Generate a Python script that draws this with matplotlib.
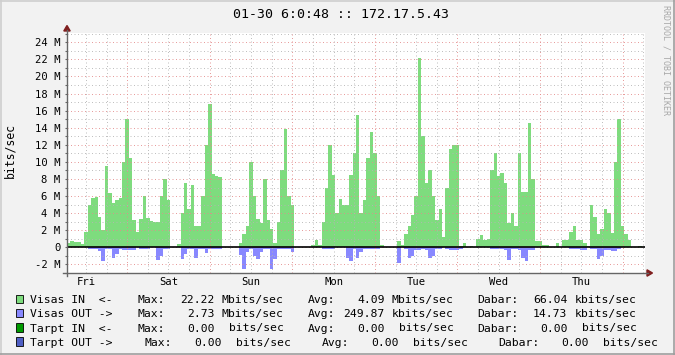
import matplotlib
matplotlib.use("Agg")
import numpy as np
import matplotlib.pyplot as plt
from matplotlib.patches import Polygon, Rectangle
from matplotlib.lines import Line2D

W, H = 675, 355
MONO = "DejaVu Sans Mono"

TITLE = "01-30 6:0:48 :: 172.17.5.43"
WATERMARK = "RRDTOOL / TOBI OETIKER"
Y_LABEL = "bits/sec"
DAYS = ["Fri", "Sat", "Sun", "Mon", "Tue", "Wed", "Thu"]
Y_TICKS = [-2, 0, 2, 4, 6, 8, 10, 12, 14, 16, 18, 20, 22, 24]
Y_TICK_LABELS = ["-2 M", "0", "2 M", "4 M", "6 M", "8 M", "10 M", "12 M",
                 "14 M", "16 M", "18 M", "20 M", "22 M", "24 M"]

# hourly values in Mbit/s, one week starting Friday morning
VISAS_IN = [
    0.55, 0.75, 0.65, 0.6, 0.4, 1.8, 5.0, 5.8, 5.9, 3.5, 2.0, 9.5,
    6.3, 5.2, 5.5, 5.8, 10.0, 15.0, 10.5, 3.2, 1.8, 3.3, 6.0, 3.4,
    3.1, 3.0, 3.0, 6.0, 8.0, 5.5, 0, 0, 0.4, 4.0, 7.5, 4.5,
    7.3, 2.5, 2.5, 6.0, 12.0, 16.8, 8.6, 8.3, 8.2, 0, 0, 0,
    0, 0, 0.5, 1.5, 2.5, 10.0, 6.0, 3.3, 2.8, 8.0, 3.2, 2.2,
    0.5, 3.0, 9.0, 13.8, 6.0, 5.0, 0, 0, 0, 0, 0, 0.3,
    0.8, 0.3, 3.0, 7.0, 12.0, 8.5, 4.0, 5.6, 5.0, 5.0, 8.5, 11.0,
    15.5, 4.0, 5.5, 10.5, 13.5, 11.0, 6.0, 0.3, 0, 0, 0, 0,
    0.7, 0.3, 1.5, 2.5, 3.8, 6.0, 22.2, 13.0, 7.5, 9.0, 6.0, 3.2,
    4.5, 1.2, 7.0, 11.5, 12.0, 12.0, 0.2, 0.5, 0, 0.1, 0, 1.0,
    1.4, 0.9, 1.0, 9.0, 11.0, 8.3, 8.7, 7.5, 2.8, 4.0, 2.5, 11.0,
    6.5, 6.5, 14.5, 8.0, 0.7, 0.7, 0.3, 0.3, 0, 0, 0.5, 0,
    0.8, 0.9, 1.8, 2.5, 0.8, 0.8, 0.5, 0.1, 5.0, 3.5, 1.6, 2.2,
    4.5, 4.0, 1.7, 10.0, 15.0, 2.5, 1.6, 0.8, 0, 0, 0.2, 0,
]
VISAS_OUT = [
    0, 0, 0, 0, 0, 0, 0.2, 0.2, 0.2, 0.4, 1.6, 0.2,
    0.2, 1.3, 0.8, 0.2, 0.3, 0.3, 0.3, 0.3, 0, 0.2, 0.2, 0.2,
    0, 0, 1.5, 1.0, 0.2, 0.2, 0, 0, 0, 1.4, 0.8, 0.2,
    0.2, 1.2, 0.2, 0.2, 0.7, 0.2, 0.2, 0.2, 0.2, 0, 0, 0,
    0, 0, 0.9, 2.6, 0.5, 0.2, 1.0, 1.4, 0.5, 0.2, 0.2, 2.5,
    1.4, 0.2, 0.2, 0.2, 0.2, 0.5, 0, 0, 0, 0, 0, 0,
    0, 0, 0.2, 0.2, 0.2, 0.2, 0, 0, 0, 1.2, 1.6, 0.2,
    1.2, 0.6, 0.2, 0.2, 0.2, 0.2, 0.2, 0, 0, 0, 0, 0,
    1.8, 0, 0.2, 1.3, 1.0, 0.3, 0.3, 0.2, 0.3, 1.2, 1.0, 0.2,
    0.2, 0, 0.2, 0.3, 0.3, 0.3, 0.2, 0, 0, 0, 0, 0,
    0, 0, 0, 0.2, 0.2, 0.2, 0.2, 0.3, 1.5, 0.2, 0.2, 0.3,
    1.2, 1.6, 0.3, 0.3, 0, 0, 0, 0, 0, 0, 0, 0,
    0, 0, 0.2, 0.2, 0.2, 0.3, 0.3, 0, 0.2, 0.2, 1.4, 1.0,
    0.3, 0.3, 0.4, 0.4, 0.2, 0, 0, 0, 0, 0, 0, 0,
]

LEGEND_NAMES = ["Visas IN  <-", "Visas OUT ->", "Tarpt IN  <-", "Tarpt OUT ->"]
LEGEND_MAX = ["22.22", "2.73", "0.00", "0.00"]
LEGEND_MAX_UNIT = ["Mbits/sec", "Mbits/sec", " bits/sec", " bits/sec"]
LEGEND_AVG = ["4.09", "249.87", "0.00", "0.00"]
LEGEND_AVG_UNIT = ["Mbits/sec", "kbits/sec", " bits/sec", " bits/sec"]
LEGEND_CUR = ["66.04", "14.73", "0.00", "0.00"]
LEGEND_CUR_UNIT = ["kbits/sec", "kbits/sec", " bits/sec", " bits/sec"]

GREEN = "#7edc7e"
BLUE = "#8888ff"
SWATCHES = [GREEN, BLUE, "#009a00", "#4f5fc4"]
GRID = "#b4b4b4"
MGRID = "#e38a8a"
ARROW = "#801f1f"
AXIS = "#666666"

FIRST_MIDNIGHT = 17.5  # hours from left edge


def fx(x):
    return x / W


def fy(y):
    return 1 - y / H


fig = plt.figure(figsize=(W / 100, H / 100), dpi=100, facecolor="#f2f2f2")
ax = fig.add_axes([fx(67), fy(273), 578 / W, (273 - 32.5) / H], facecolor="white")

n = len(VISAS_IN)
edges = np.arange(n + 1)
ax.stairs(VISAS_IN, edges, baseline=0, fill=True, color=GREEN, lw=0, zorder=1)
ax.stairs(-np.array(VISAS_OUT), edges, baseline=0, fill=True, color=BLUE, lw=0, zorder=1)

ax.set_xlim(0, 168)
ax.set_ylim(-3.01, 25.15)

# dotted grid on top of data, like rrdtool
dots = (0, (1.2, 3.0))
for v in range(-3, 26):
    if v % 2:
        ax.axhline(v, color=GRID, lw=0.6, ls=dots, zorder=2)
for v in Y_TICKS:
    ax.axhline(v, color=MGRID, lw=0.6, ls=dots, zorder=2)
for h in np.arange(FIRST_MIDNIGHT - 12, 168, 6):
    is_midnight = (h - FIRST_MIDNIGHT) % 24 == 0
    ax.axvline(h, color=MGRID if is_midnight else GRID, lw=0.6, ls=dots, zorder=2)
ax.axhline(0, color="black", lw=1.2, zorder=3)

for s in ax.spines.values():
    s.set_visible(False)

ax.set_yticks(Y_TICKS)
ax.set_yticklabels(Y_TICK_LABELS, family=MONO, fontsize=7.6)
ax.set_yticks(range(-3, 26, 2), minor=True)
ax.tick_params(axis="y", which="both", direction="out", length=1.5, width=0.8,
               color=AXIS, pad=3.2)

noons = [FIRST_MIDNIGHT - 12 + 24 * i for i in range(len(DAYS))]
ax.set_xticks(noons)
ax.set_xticklabels(DAYS, family=MONO, fontsize=7.6)
ax.tick_params(axis="x", length=0, pad=8.3)
for lab in ax.get_xticklabels():
    lab.set_va("baseline")

# axes with arrows
fig.add_artist(Line2D([fx(67), fx(67)], [fy(276), fy(30)], color=AXIS, lw=1,
                      transform=fig.transFigure))
fig.add_artist(Line2D([fx(63), fx(648)], [fy(273), fy(273)], color=AXIS, lw=1,
                      transform=fig.transFigure))
fig.add_artist(Polygon([[fx(63.8), fy(31)], [fx(70.2), fy(31)], [fx(67), fy(25.5)]],
                       closed=True, color=ARROW, transform=fig.transFigure))
fig.add_artist(Polygon([[fx(647), fy(269.8)], [fx(647), fy(276.2)], [fx(652.5), fy(273)]],
                       closed=True, color=ARROW, transform=fig.transFigure))

# frame shading
fig.add_artist(Line2D([0, 1], [fy(0.8), fy(0.8)], color="#cfcfcf", lw=1.2, transform=fig.transFigure))
fig.add_artist(Line2D([fx(0.8), fx(0.8)], [0, 1], color="#cfcfcf", lw=1.2, transform=fig.transFigure))
fig.add_artist(Line2D([0, 1], [fy(354.2), fy(354.2)], color="#9e9e9e", lw=1.2, transform=fig.transFigure))
fig.add_artist(Line2D([fx(674.2), fx(674.2)], [0, 1], color="#9e9e9e", lw=1.2, transform=fig.transFigure))

fig.text(fx(341.4), fy(18.3), TITLE, ha="center", va="baseline", family=MONO, fontsize=9.5)
fig.text(fx(10), fy(150), Y_LABEL, rotation=90, ha="center", va="center",
         family=MONO, fontsize=8.3)
fig.text(fx(666), fy(60), WATERMARK, rotation=270, ha="center", va="center",
         family=MONO, fontsize=6, color="#a8a8a8")

# legend
ROWS = [303.3, 317.4, 331.5, 345.6]


def ltext(x, y, s, ha="left"):
    fig.text(fx(x), fy(y), s, ha=ha, va="baseline", family=MONO, fontsize=8.2)


for i, b in enumerate(ROWS):
    shift = 7.0 if i == 3 else 0.0
    fig.add_artist(Rectangle((fx(15.5), fy(b)), 7.7 / W, 8.3 / H, transform=fig.transFigure,
                             facecolor=SWATCHES[i], edgecolor="black", lw=0.6))
    ltext(30.1, b, LEGEND_NAMES[i])
    ltext(137.8 + shift, b, "Max:")
    ltext(214.4 + shift, b, LEGEND_MAX[i], ha="right")
    ltext(221.7 + shift, b, LEGEND_MAX_UNIT[i])
    ltext(307.8 + 2 * shift, b, "Avg:")
    ltext(384.4 + 2 * shift, b, LEGEND_AVG[i], ha="right")
    ltext(391.7 + 2 * shift, b, LEGEND_AVG_UNIT[i])
    ltext(477.0 + 3 * shift, b, "Dabar:")
    ltext(567.4 + 3 * shift, b, LEGEND_CUR[i], ha="right")
    ltext(574.7 + 3 * shift, b, LEGEND_CUR_UNIT[i])

fig.savefig("out.png", dpi=100, facecolor=fig.get_facecolor())
